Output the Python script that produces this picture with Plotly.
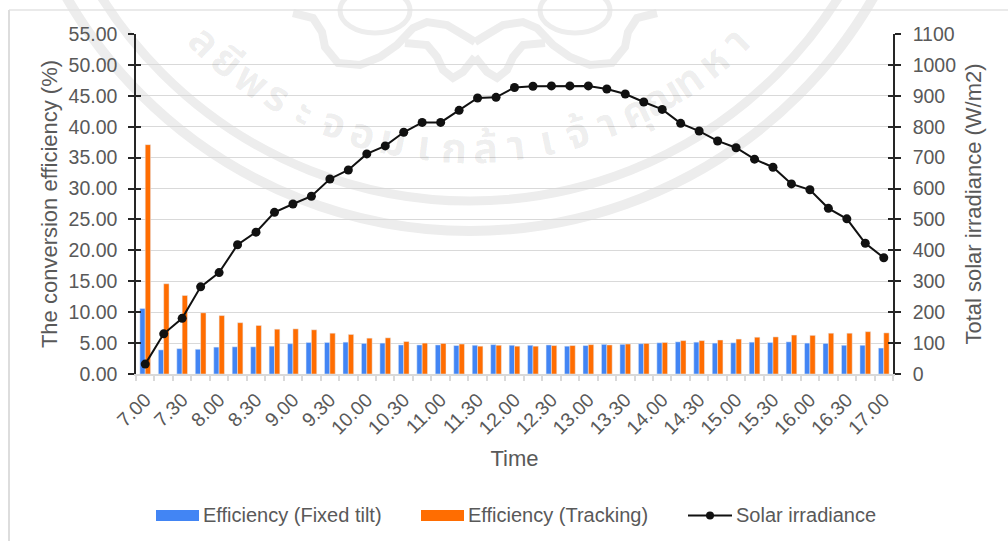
import math
import plotly.graph_objects as go

minutes = ["00", "15", "30", "45"]
categories = [f"{h}.{m}" for h in range(7, 17) for m in minutes] + ["17.00"]
tick_labels = categories[::2]

fixed_tilt = [10.6, 3.9, 4.1, 4.0, 4.35, 4.4, 4.4, 4.5, 4.9, 5.1, 5.1, 5.15, 4.95, 5.0, 4.7, 4.7, 4.7, 4.6, 4.65, 4.75,
              4.65, 4.65, 4.7, 4.5, 4.6, 4.8, 4.8, 4.9, 5.05, 5.2, 5.15, 5.0, 5.05, 5.15, 5.1, 5.2, 5.0, 4.95, 4.65, 4.65, 4.2]
tracking = [37.1, 14.6, 12.7, 9.9, 9.45, 8.3, 7.85, 7.25, 7.3, 7.15, 6.6, 6.4, 5.8, 5.85, 5.25, 5.0, 4.95, 4.85, 4.5, 4.65,
            4.5, 4.5, 4.6, 4.6, 4.75, 4.7, 4.85, 4.95, 5.1, 5.4, 5.4, 5.5, 5.65, 5.95, 6.0, 6.3, 6.25, 6.6, 6.6, 6.85, 6.65]
irradiance = [32, 130, 180, 282, 328, 418, 459, 523, 550, 575, 631, 660, 712, 738, 782, 814, 814, 853, 893, 895, 927,
              931, 932, 932, 932, 922, 906, 880, 856, 811, 786, 754, 732, 695, 669, 615, 596, 536, 502, 423, 376]

left_ticks = [i * 5 for i in range(12)]
right_ticks = [i * 100 for i in range(12)]
series_names = ["Efficiency (Fixed tilt)", "Efficiency (Tracking)", "Solar irradiance"]
watermark_glyphs = ["ล", "ยี", "พ", "ร", "ะ", "จ", "อ", "ม", "เ", "ก", "ล้", "า", "เ", "จ้", "า", "คุ", "ณ", "ท", "ห", "า"]

FONT = "Liberation Sans, Arial, sans-serif"
TEXT = "#595959"
BLUE = "#4285F4"
ORANGE = "#FF6D01"
BLACK = "#111111"
GRID = "#D9D9D9"
AXIS = "#262626"
WM = "#EDEDED"
PL, PR, PT, PB = 136, 893, 34, 374


def px(x):
    return (x - PL) / (PR - PL)


def py(y):
    return (PB - y) / (PB - PT)


fig = go.Figure()
fig.add_bar(x=categories, y=fixed_tilt, name=series_names[0], marker_color=BLUE)
fig.add_bar(x=categories, y=tracking, name=series_names[1], marker_color=ORANGE)
fig.add_scatter(x=categories, y=irradiance, name=series_names[2], yaxis="y2", mode="lines+markers",
                line=dict(color=BLACK, width=2), marker=dict(color=BLACK, size=9))
# invisible carriers for the extra tick axes (boundary ticks, inner half of the crossing ticks)
fig.add_scatter(x=categories, y=fixed_tilt, xaxis="x2", yaxis="y3", mode="lines", line=dict(width=0),
                hoverinfo="skip", showlegend=False, opacity=0)
fig.add_scatter(x=categories, y=irradiance, yaxis="y4", mode="lines", line=dict(width=0),
                hoverinfo="skip", showlegend=False, opacity=0)

shapes = []
# page frame
shapes.append(dict(type="line", xref="paper", yref="paper", x0=px(9), x1=px(1008), y0=py(10), y1=py(10),
                   line=dict(color="#E3E3E3", width=1.5)))
shapes.append(dict(type="line", xref="paper", yref="paper", x0=px(9), x1=px(9), y0=py(10), y1=py(541),
                   line=dict(color="#DDDDDD", width=2)))
# watermark bands
WX, WY = 470, -234
for r, w in ((465, 10), (435, 9)):
    shapes.append(dict(type="circle", xref="paper", yref="paper", layer="below",
                       x0=px(WX - r), x1=px(WX + r), y0=py(WY - r), y1=py(WY + r),
                       line=dict(color=WM, width=w)))
# watermark seal: two mirrored ribbons and the two heads, in page pixels
ribbon_a = [(293, 13), (313, 18), (322, 32), (325, 47), (338, 63), (360, 65), (380, 57), (397, 45), (413, 28),
            (427, 22), (447, 25), (467, 37), (475, 42)]
ribbon_b = [(405, 43), (427, 45), (437, 57), (443, 70), (453, 78), (463, 72), (475, 57)]
for pts in (ribbon_a, ribbon_b):
    for sign in (1, -1):
        d = "M " + " L ".join(f"{px(475 + sign * (x - 475))},{py(y)}" for x, y in pts)
        shapes.append(dict(type="path", xref="paper", yref="paper", layer="below", path=d,
                           line=dict(color=WM, width=8)))
for cx in (375, 575):
    shapes.append(dict(type="circle", xref="paper", yref="paper", layer="below",
                       x0=px(cx - 35), x1=px(cx + 35), y0=py(-12), y1=py(33),
                       line=dict(color=WM, width=5)))
# legend keys
for x0, x1, c in ((156, 199, BLUE), (421, 464, ORANGE)):
    shapes.append(dict(type="rect", xref="paper", yref="paper", x0=px(x0), x1=px(x1), y0=py(510), y1=py(521),
                       fillcolor=c, line=dict(width=0)))
shapes.append(dict(type="line", xref="paper", yref="paper", x0=px(688), x1=px(732), y0=py(515.5), y1=py(515.5),
                   line=dict(color=BLACK, width=2)))
shapes.append(dict(type="circle", xref="paper", yref="paper", x0=px(706), x1=px(714), y0=py(511.5), y1=py(519.5),
                   fillcolor=BLACK, line=dict(width=0)))

annotations = []
for x, name in zip((201, 466, 734), series_names):
    annotations.append(dict(text=name, xref="paper", yref="paper", x=px(x), y=py(515), xanchor="left",
                            yanchor="middle", showarrow=False, font=dict(size=20, color=TEXT, family=FONT)))
# watermark text along the arc
n = len(watermark_glyphs)
for i, g in enumerate(watermark_glyphs):
    a = -44 + 88 * i / (n - 1)
    ar = math.radians(a)
    annotations.append(dict(text=f"<b>{g}</b>", xref="paper", yref="paper", x=px(WX + 384 * math.sin(ar)),
                            y=py(WY + 384 * math.cos(ar)), xanchor="center", yanchor="middle",
                            showarrow=False, textangle=-a,
                            font=dict(size=42, color="rgba(0,0,0,0.07)", family="Noto Sans Thai, Noto Sans, DejaVu Sans")))

fig.update_layout(
    width=1008, height=541, autosize=False,
    margin=dict(l=PL, r=1008 - PR, t=PT, b=541 - PB, autoexpand=False),
    paper_bgcolor="white", plot_bgcolor="rgba(0,0,0,0)",
    font=dict(family=FONT, size=19.5, color=TEXT),
    barmode="group", bargap=0.42, bargroupgap=0, showlegend=False,
    shapes=shapes, annotations=annotations,
    xaxis=dict(type="category", categoryorder="array", categoryarray=categories, range=[-0.5, 40.5],
               tickmode="array", tickvals=tick_labels, ticktext=tick_labels, tickangle=-45,
               tickfont=dict(size=19.5, color=TEXT), showgrid=False, showline=True,
               linecolor=GRID, linewidth=1.5, ticks="outside", ticklen=5, tickcolor="rgba(0,0,0,0)",
               automargin=False,
               title=dict(text="Time", font=dict(size=22, color=TEXT), standoff=13)),
    xaxis2=dict(type="category", categoryorder="array", categoryarray=categories, range=[-0.5, 40.5],
                overlaying="x", anchor="y", side="bottom", dtick=1, tickson="boundaries", ticks="outside",
                ticklen=6, tickcolor=GRID, tickwidth=2, showticklabels=False, showgrid=False, showline=False,
                automargin=False),
    yaxis=dict(range=[0, 55], tickmode="array", tickvals=left_ticks,
               ticktext=[f"{v:.2f}" for v in left_ticks], tickfont=dict(size=19.5, color=TEXT),
               showgrid=True, gridcolor=GRID, gridwidth=1, zeroline=False, showline=True,
               linecolor=AXIS, linewidth=1.5, ticks="outside", ticklen=6, tickcolor=AXIS, tickwidth=1.5,
               ticklabelstandoff=7, automargin=False,
               title=dict(text="The conversion efficiency (%)", font=dict(size=22, color=TEXT), standoff=5)),
    yaxis2=dict(range=[0, 1100], overlaying="y", side="right", tickmode="array", tickvals=right_ticks,
                tickfont=dict(size=19.5, color=TEXT), showgrid=False, zeroline=False, showline=True,
                linecolor=AXIS, linewidth=1.5, ticks="outside", ticklen=6, tickcolor=AXIS, tickwidth=1.5,
                ticklabelstandoff=8, automargin=False,
                title=dict(text="Total solar irradiance (W/m2)", font=dict(size=22, color=TEXT), standoff=10)),
    yaxis3=dict(range=[0, 55], overlaying="y", side="left", tickmode="array", tickvals=left_ticks,
                showticklabels=False, showgrid=False, zeroline=False, ticks="inside", ticklen=5,
                tickcolor=AXIS, tickwidth=1.5, automargin=False),
    yaxis4=dict(range=[0, 1100], overlaying="y", side="right", tickmode="array", tickvals=right_ticks,
                showticklabels=False, showgrid=False, zeroline=False, ticks="inside", ticklen=5,
                tickcolor=AXIS, tickwidth=1.5, automargin=False),
)
fig.write_html("out.html", config=dict(displayModeBar=False),
               post_script="document.body.style.margin='0';document.documentElement.style.overflow='hidden';")
